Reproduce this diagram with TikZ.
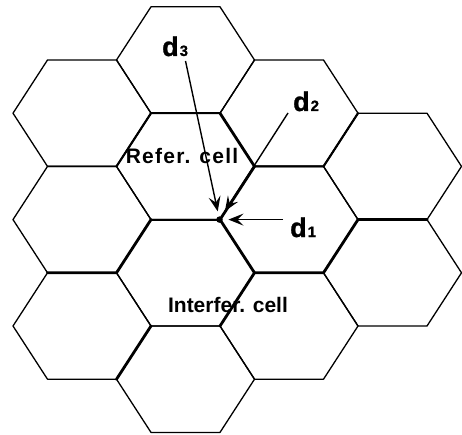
\documentclass[tikz,border=0pt]{standalone}
\usepackage{fontspec}
\setmainfont{Liberation Sans}
\usetikzlibrary{arrows.meta}
\newcommand\dlabel[1]{{\fontsize{27}{27}\selectfont\addfontfeature{FakeBold=1.2}d}\kern1pt{\fontsize{15}{15}\selectfont\addfontfeature{FakeBold=0.8}#1}}
\begin{document}
\begin{tikzpicture}[x=1pt,y=-1pt,
  hexline/.style={line width=1.3pt, line join=round},
  thickedge/.style={line width=2.8pt, line cap=round, line join=round},
  mededge/.style={line width=2.1pt, line cap=round, line join=round},
  lab/.style={font=\bfseries\fontsize{21}{21}\selectfont, inner sep=0pt},
  dlab/.style={font=\bfseries, inner sep=0pt, anchor=base west},
  arr/.style={line width=1.4pt, -{Stealth[length=15pt,width=12pt,inset=6pt]}},
  pics/hexcell/.style={code={\draw[hexline] (-69,0) -- (-34.5,-53.2) -- (34.5,-53.2) -- (69,0) -- (34.5,53.2) -- (-34.5,53.2) -- cycle;}}
]
\useasboundingbox (0,0) rectangle (462,435);
% cells
\pic (A1) at (82,113.2) {hexcell};
\pic (A2) at (82,219.6) {hexcell};
\pic (A3) at (82,326) {hexcell};
\pic (B1) at (185.5,60) {hexcell};
\pic (B2) at (185.5,166.4) {hexcell};
\pic (B3) at (185.5,272.8) {hexcell};
\pic (B4) at (185.5,379.2) {hexcell};
\pic (C1) at (289,113.2) {hexcell};
\pic (C2) at (289,219.6) {hexcell};
\pic (C3) at (289,326) {hexcell};
\pic (D1) at (392.5,166.4) {hexcell};
\pic (D2) at (392.5,272.8) {hexcell};
% heavier boundaries
\draw[thickedge] (47.5,272.8) -- (116.5,272.8) -- (151,219.6);
\draw[mededge] (151,219.6) -- (220,219.6);
\draw[thickedge] (220,219.6) -- (254.5,166.4);
\draw[mededge] (254.5,166.4) -- (323.5,166.4) -- (358,113.2);
\draw[thickedge] (116.5,379.2) -- (151,326);
\draw[thickedge] (220,326) -- (254.5,272.8) -- (323.5,272.8) -- (358,219.6) -- (427,219.6);
\draw[thickedge] (220,219.6) -- (254.5,272.8);
\draw[thickedge] (220,113.2) -- (254.5,166.4);
\draw[mededge] (116.5,166.4) -- (151,113.2) -- (220,113.2);
% labels
\node[lab] (ref) at (182,155.5) {\addfontfeature{LetterSpace=6}Refer.\hspace{9pt}cell};
\node[lab] (int) at (228,304.5) {Interfer. cell};
\node[dlab] (d3) at (162,56) {\dlabel{3}};
\node[dlab] (d2) at (293,111) {\dlabel{2}};
\node[dlab] (d1) at (290,237) {\dlabel{1}};
% point and arrows
\node[circle, fill, inner sep=0pt, minimum size=6.5pt] (P) at (219.5,219.6) {};
\coordinate (s3) at (185.5,61);
\coordinate (s2) at (288,113);
\coordinate (s1) at (283,219.6);
\draw[arr, shorten >=5pt] (s3) -- (P);
\draw[arr, shorten >=6.5pt] (s2) -- (P);
\draw[arr, shorten >=5.5pt] (s1) -- (P);
\end{tikzpicture}
\end{document}
